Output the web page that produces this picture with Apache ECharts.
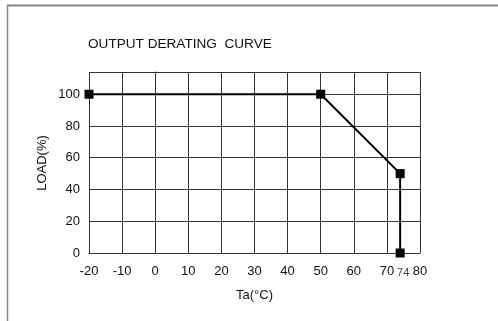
<!DOCTYPE html>
<html><head><meta charset="utf-8">
<script src="https://cdn.jsdelivr.net/npm/echarts@6/dist/echarts.min.js"></script>
<style>html,body{margin:0;padding:0;background:#fff}#c{width:498px;height:321px}</style>
</head><body><div id="c"></div>
<script>
const titleText = 'OUTPUT DERATING  CURVE';
const xName = 'Ta(°C)';
const yName = 'LOAD(%)';
const temps = [-20, 50, 74, 74];
const loads = [100, 100, 50, 0];
const extraTick = 74;

const chart = echarts.init(document.getElementById('c'));
const font = 'Liberation Sans, Arial, sans-serif';
chart.setOption({
  animation: false,
  backgroundColor: '#fff',
  title: { text: titleText, left: 83, top: 32, textStyle: { fontFamily: font, fontSize: 13.6, fontWeight: 'normal', color: '#111' } },
  grid: { left: 89, right: 78, top: 72, bottom: 68 },
  graphic: [
    { type: 'line', shape: { x1: 7, y1: 5.5, x2: 498, y2: 5.5 }, style: { stroke: '#888', lineWidth: 2 } },
    { type: 'line', shape: { x1: 7.5, y1: 5, x2: 7.5, y2: 321 }, style: { stroke: '#888', lineWidth: 1.5 } },
    { type: 'text', rotation: Math.PI / 2, x: 42, y: 163, style: { text: yName, font: '13px ' + font, fill: '#111', textAlign: 'center', textVerticalAlign: 'middle' } }
  ],
  xAxis: [
    {
      type: 'value', min: -20, max: 80, interval: 10,
      name: xName, nameLocation: 'middle', nameGap: 36,
      nameTextStyle: { fontFamily: font, fontSize: 13, color: '#111' },
      axisLine: { show: true, lineStyle: { color: '#333', width: 1 } },
      axisTick: { show: false },
      axisLabel: { margin: 12, fontFamily: font, fontSize: 13, color: '#111' },
      splitLine: { show: true, lineStyle: { color: '#333', width: 1 } }
    },
    {
      type: 'value', min: -20, max: 80, interval: 2, position: 'bottom',
      axisLine: { show: false }, axisTick: { show: false }, splitLine: { show: false },
      axisLabel: { margin: 14, padding: [0, 0, 0, 6], fontFamily: font, fontSize: 11, color: '#444',
        formatter: v => (v === extraTick ? String(extraTick) : '') }
    }
  ],
  yAxis: {
    type: 'value', min: 0, max: 114, interval: 20,
    axisLine: { show: true, lineStyle: { color: '#333', width: 1 } },
    axisTick: { show: false },
    axisLabel: { margin: 9, fontFamily: font, fontSize: 13, color: '#111',
      formatter: v => (v % 20 === 0 ? String(v) : '') },
    splitLine: { show: true, lineStyle: { color: '#333', width: 1 } }
  },
  series: [{
    type: 'line', xAxisIndex: 0,
    data: temps.map((t, i) => [t, loads[i]]),
    symbol: 'rect', symbolSize: 9,
    lineStyle: { color: '#000', width: 2 },
    itemStyle: { color: '#000' },
    clip: false
  }]
});
</script></body></html>
